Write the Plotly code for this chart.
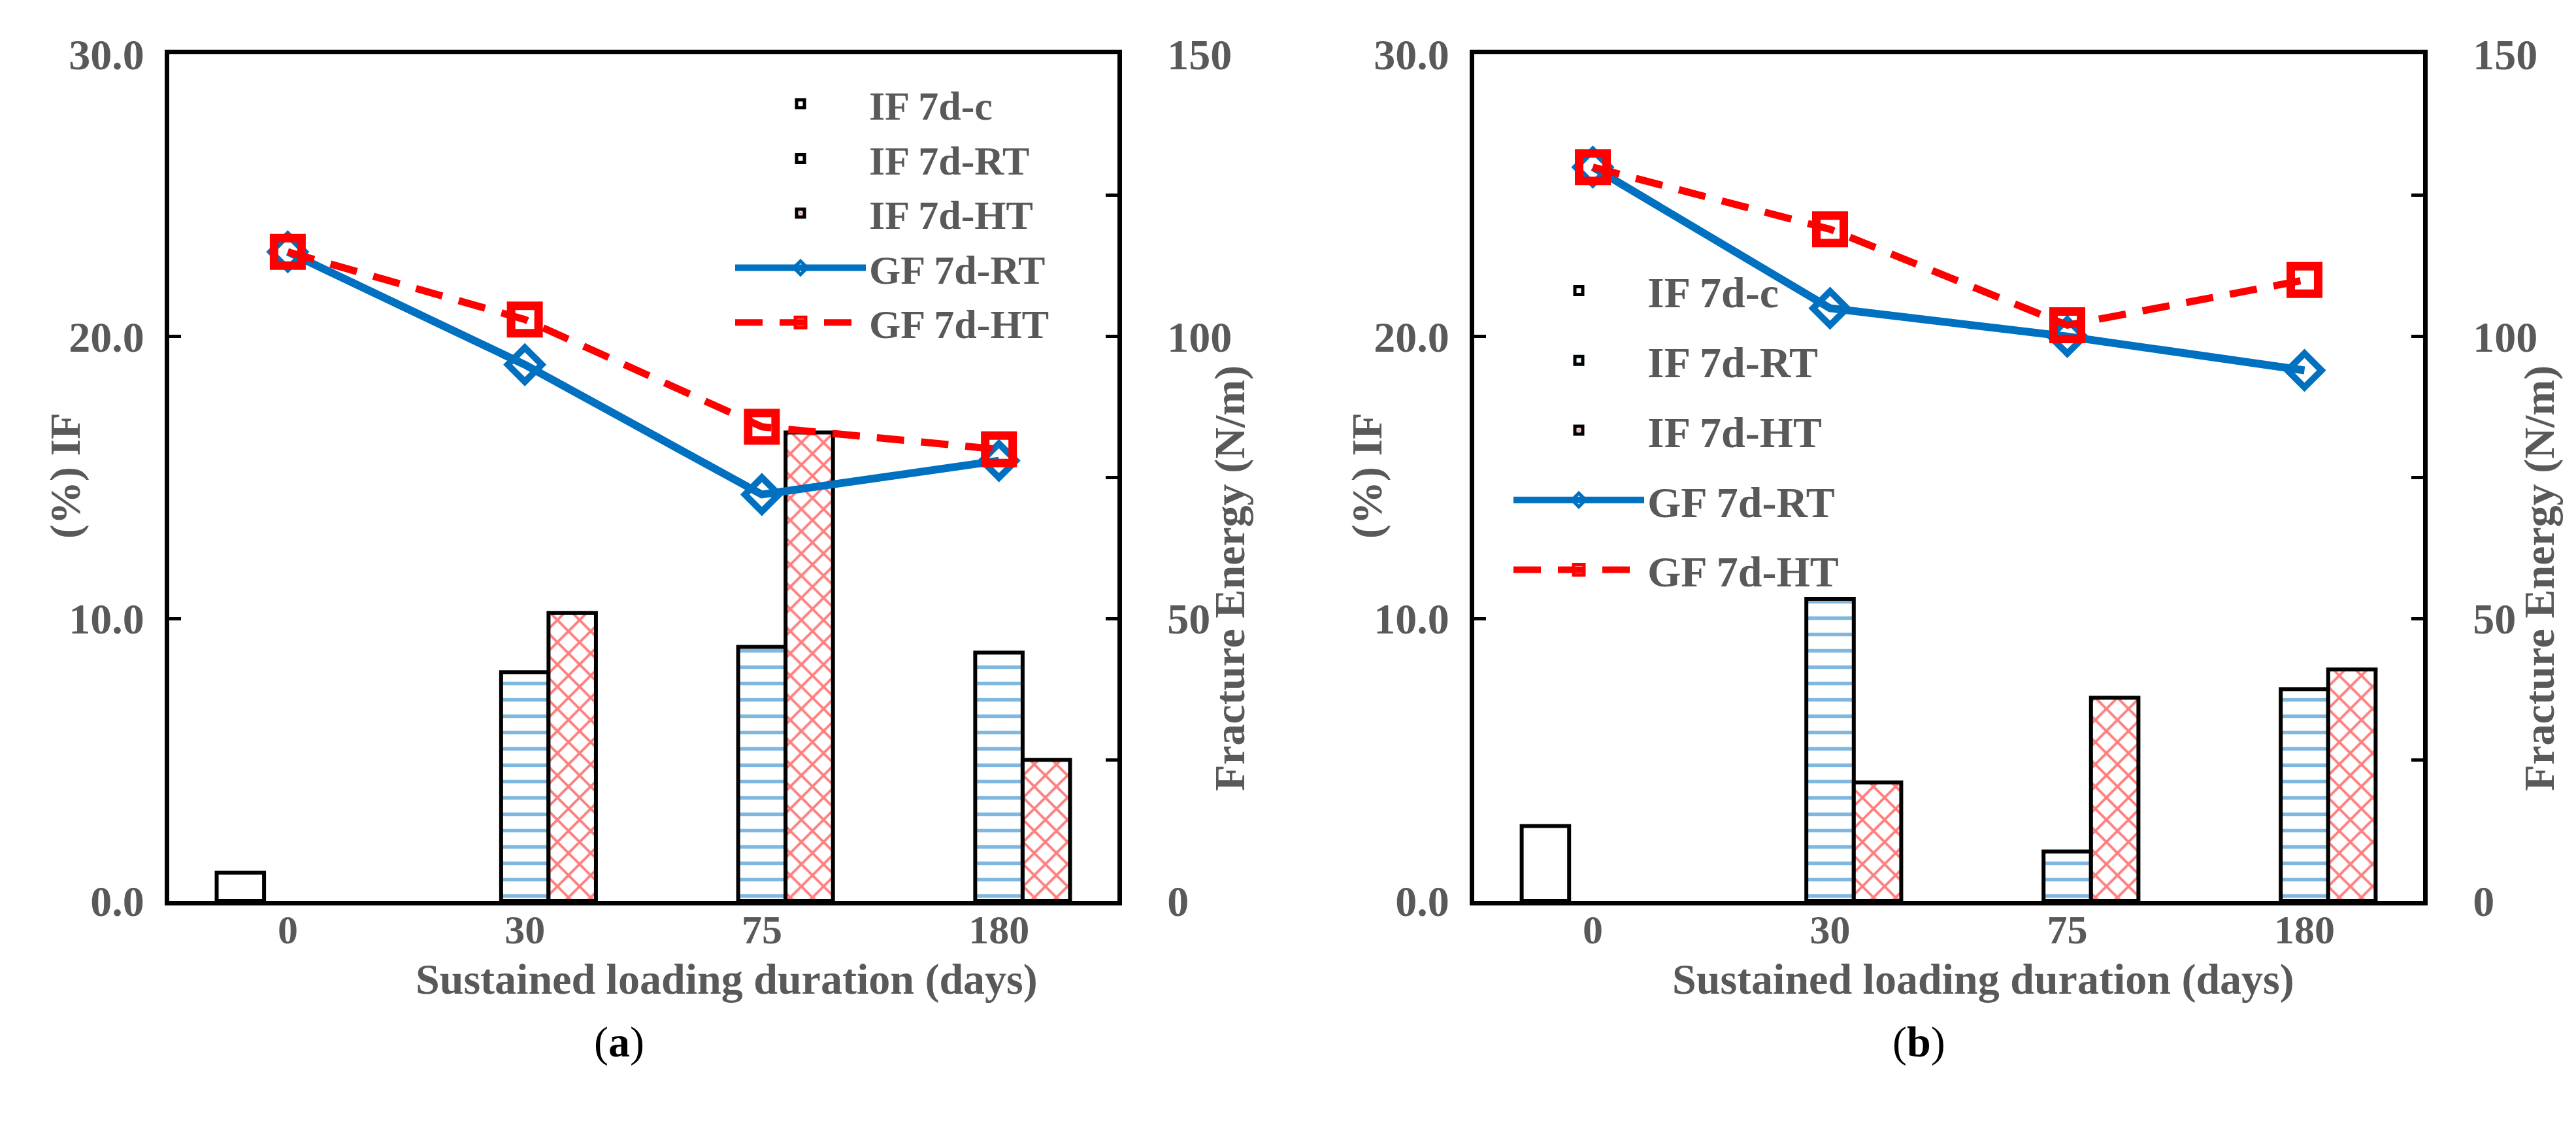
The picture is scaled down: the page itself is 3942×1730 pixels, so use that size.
import plotly.graph_objects as go

# ---------------- data ----------------
days = ["0", "30", "75", "180"]

# panel (a)
a_if_c = [1.0, None, None, None]
a_if_rt = [None, 8.1, 9.0, 8.8]
a_if_ht = [None, 10.2, 16.6, 5.0]
a_gf_rt = [115, 95, 72, 78]
a_gf_ht = [115, 103, 84, 80]

# panel (b)
b_if_c = [2.65, None, None, None]
b_if_rt = [None, 10.7, 1.75, 7.5]
b_if_ht = [None, 4.2, 7.2, 8.2]
b_gf_rt = [130, 105, 100, 94]
b_gf_ht = [130, 119, 102, 110]

series_names = ["IF 7d-c", "IF 7d-RT", "IF 7d-HT", "GF 7d-RT", "GF 7d-HT"]
left_ticks = [0, 10, 20, 30]
right_ticks = [0, 50, 100, 150]
x_title = "Sustained loading duration (days)"
y_left_title = "(%) IF"
y_right_title = "Fracture Energy (N/m)"

# ---------------- style ----------------
W, H = 3942, 1730
OFF = 8  # page body margin
FONT = "Liberation Serif"
GRAY = "#595959"
BLUE = "#0070C0"
RED = "#FF0000"
FS = 66

def px_x(p):
    return (p - OFF) / W

def px_y(p):
    return 1 - (p - OFF) / H

fig = go.Figure()

def add_panel(xa, ya, ya2, legend, c, rt, ht, gfrt, gfht, grouped):
    bar_line = dict(color="black", width=6)
    def grp(k):
        return legend + k if grouped else None
    fig.add_trace(go.Bar(
        x=days, y=c, name=series_names[0], xaxis=xa, yaxis=ya, legend=legend,
        legendgroup=grp("c"),
        marker=dict(color="white", line=bar_line),
    ))
    fig.add_trace(go.Bar(
        x=days, y=rt, name=series_names[1], xaxis=xa, yaxis=ya, legend=legend,
        legendgroup=grp("rt"),
        marker=dict(color="white", line=bar_line,
                    pattern=dict(shape="-", fgcolor=BLUE, bgcolor="white",
                                 size=25, solidity=0.22)),
    ))
    fig.add_trace(go.Bar(
        x=days, y=ht, name=series_names[2], xaxis=xa, yaxis=ya, legend=legend,
        legendgroup=grp("ht"),
        marker=dict(color="white", line=bar_line,
                    pattern=dict(shape="x", fgcolor=RED, bgcolor="white",
                                 size=24, solidity=0.3)),
    ))
    fig.add_trace(go.Scatter(
        x=days, y=gfrt, name=series_names[3], xaxis=xa, yaxis=ya2, legend=legend,
        legendgroup=grp("grt"),
        mode="lines+markers",
        line=dict(color=BLUE, width=12),
        marker=dict(symbol="diamond-open", size=40, color=BLUE,
                    line=dict(color=BLUE, width=10)),
    ))
    fig.add_trace(go.Scatter(
        x=days, y=gfht, name=series_names[4], xaxis=xa, yaxis=ya2, legend=legend,
        legendgroup=grp("ght"),
        mode="lines+markers",
        line=dict(color=RED, width=11, dash="42px,26px"),
        marker=dict(symbol="square-open", size=42, color=RED,
                    line=dict(color=RED, width=13)),
    ))

add_panel("x", "y", "y2", "legend", a_if_c, a_if_rt, a_if_ht, a_gf_rt, a_gf_ht, False)
add_panel("x2", "y3", "y4", "legend2", b_if_c, b_if_rt, b_if_ht, b_gf_rt, b_gf_ht, True)

tickfont = dict(family=FONT, size=FS, color=GRAY, weight=700)
xtickfont = dict(family=FONT, size=62, color=GRAY, weight=700)
ydom = [px_y(1378), px_y(83)]

def xaxis(dom, anchor):
    return dict(domain=dom, anchor=anchor, type="category", automargin=False,
                showline=True, linewidth=7, linecolor="black", mirror=True,
                ticks="", showgrid=False, zeroline=False,
                tickfont=xtickfont, ticklabelstandoff=-16)

def yleft(anchor):
    return dict(domain=ydom, anchor=anchor, range=[0, 30], tickvals=left_ticks,
                tickformat=".1f", ticks="inside", ticklen=18, tickwidth=5,
                tickcolor="black", showline=True, linewidth=7, linecolor="black",
                showgrid=False, zeroline=False, tickfont=tickfont,
                ticklabelstandoff=18, automargin=False)

def yright(overlay, anchor):
    return dict(overlaying=overlay, anchor=anchor, side="right", range=[0, 150],
                tickvals=right_ticks, ticks="inside", ticklen=18, tickwidth=5,
                tickcolor="black", showline=True, linewidth=7, linecolor="black",
                minor=dict(dtick=25, ticks="inside", ticklen=18, tickwidth=5,
                           tickcolor="black", showgrid=False),
                showgrid=False, zeroline=False, tickfont=tickfont,
                ticklabelstandoff=56, automargin=False)

xa_dom = [px_x(259), px_x(1710)]
xb_dom = [px_x(2256), px_x(3708)]

fig.update_layout(
    width=W, height=H, autosize=False,
    margin=dict(l=0, r=0, t=0, b=0, autoexpand=False),
    paper_bgcolor="white", plot_bgcolor="white",
    barmode="group", bargap=0.4, bargroupgap=0,
    font=dict(family=FONT, color=GRAY),
    xaxis=xaxis(xa_dom, "y"),
    yaxis=yleft("x"),
    yaxis2=yright("y", "x"),
    xaxis2=xaxis(xb_dom, "y3"),
    yaxis3=yleft("x2"),
    yaxis4=yright("y3", "x2"),
    legend=dict(x=px_x(1120), y=px_y(112), xanchor="left", yanchor="top",
                font=dict(family=FONT, size=62, color=GRAY, weight=700),
                bgcolor="rgba(0,0,0,0)", traceorder="normal", itemwidth=200),
    legend2=dict(x=px_x(2311), y=px_y(395), xanchor="left", yanchor="top",
                 font=dict(family=FONT, size=FS, color=GRAY, weight=700),
                 bgcolor="rgba(0,0,0,0)", traceorder="grouped",
                 tracegroupgap=18, itemwidth=200),
    showlegend=True,
)

ann_font = dict(family=FONT, size=FS, color=GRAY, weight=700)
annotations = [
    dict(text=y_left_title, x=px_x(100), y=px_y(728), textangle=-90),
    dict(text=y_right_title, x=px_x(1882), y=px_y(885), textangle=-90),
    dict(text=y_left_title, x=px_x(2092), y=px_y(728), textangle=-90),
    dict(text=y_right_title, x=px_x(3886), y=px_y(885), textangle=-90),
    dict(text=x_title, x=px_x(1112), y=px_y(1498)),
    dict(text=x_title, x=px_x(3035), y=px_y(1498)),
]
for a in annotations:
    a.update(xref="paper", yref="paper", showarrow=False, font=ann_font,
             xanchor="center", yanchor="middle")
annotations += [
    dict(text="(<b>a</b>)", x=px_x(947), y=px_y(1594), xref="paper", yref="paper",
         showarrow=False, font=dict(family=FONT, size=FS, color="black"),
         xanchor="center", yanchor="middle"),
    dict(text="(<b>b</b>)", x=px_x(2936), y=px_y(1594), xref="paper", yref="paper",
         showarrow=False, font=dict(family=FONT, size=FS, color="black"),
         xanchor="center", yanchor="middle"),
]
fig.update_layout(annotations=annotations)

fig.write_html("out.html")
